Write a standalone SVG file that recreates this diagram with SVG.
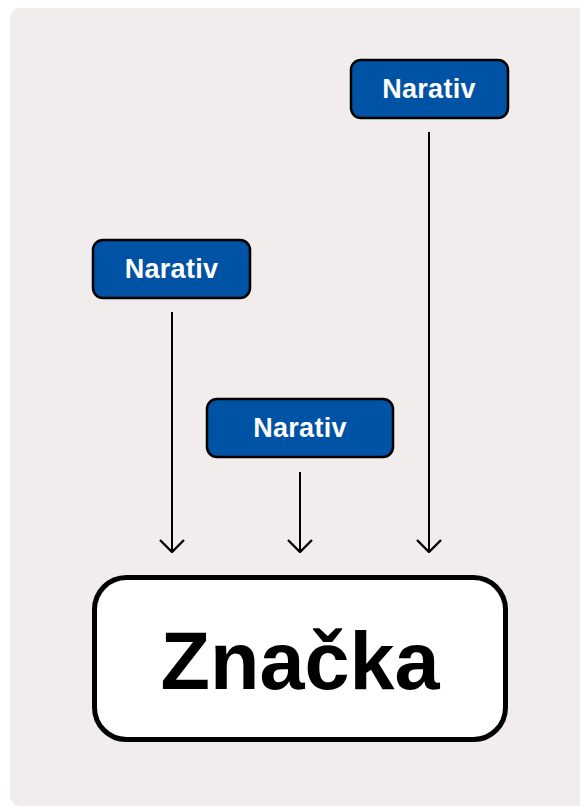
<svg xmlns="http://www.w3.org/2000/svg" width="580" height="807" viewBox="0 0 580 807">
<defs>
<style>
.nar rect{fill:#0052a5;stroke:#000;stroke-width:2.5}
.nar text{font-family:"Liberation Sans",Arial,sans-serif;font-weight:bold;font-size:27px;fill:#fff;text-anchor:middle;letter-spacing:0.3px}
.conn line{stroke:#000;stroke-width:2}
</style>
<marker id="ah" viewBox="0 0 14 26" refX="13" refY="13" markerWidth="14" markerHeight="26" markerUnits="userSpaceOnUse" orient="auto">
<path d="M1,1 L13,13 L1,25" fill="none" stroke="#000" stroke-width="2.4"/>
</marker>
</defs>
<rect x="10" y="8" width="590" height="798" rx="10" fill="#f1edec"/>
<g class="conn">
<line x1="172" y1="312" x2="172" y2="552" marker-end="url(#ah)"/>
<line x1="300" y1="472" x2="300" y2="552" marker-end="url(#ah)"/>
<line x1="429" y1="132" x2="429" y2="552" marker-end="url(#ah)"/>
</g>
<g id="n1" class="nar"><rect x="351" y="60" width="157" height="58" rx="10"/><text x="429" y="98">Narativ</text></g>
<g id="n2" class="nar"><rect x="93" y="240" width="157" height="58" rx="10"/><text x="171.5" y="278">Narativ</text></g>
<g id="n3" class="nar"><rect x="207" y="399" width="186" height="58" rx="10"/><text x="300" y="437">Narativ</text></g>
<g id="brand"><rect x="94.5" y="577.5" width="411" height="162" rx="32" fill="#fff" stroke="#000" stroke-width="5"/><text x="300" y="689" font-family="Liberation Sans,Arial,sans-serif" font-weight="bold" font-size="81" text-anchor="middle" fill="#000">Značka</text></g>
</svg>
